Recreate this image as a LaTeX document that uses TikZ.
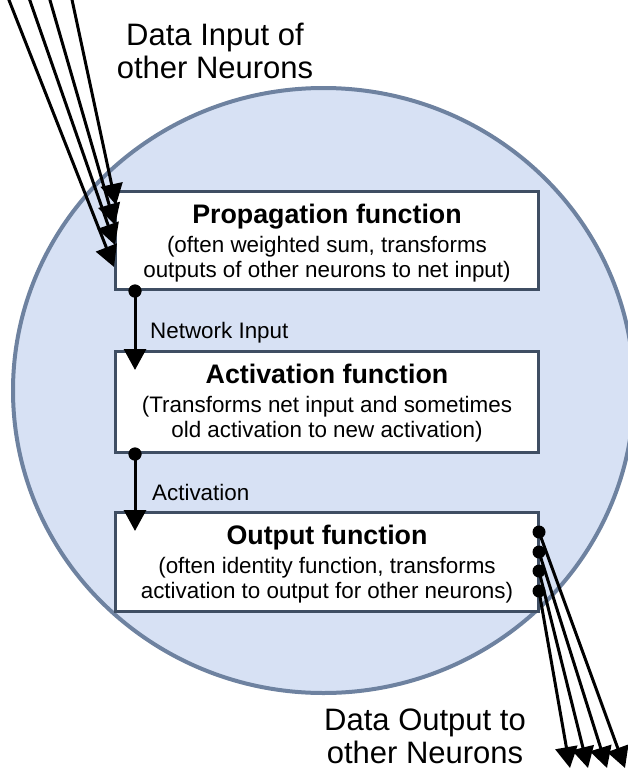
\documentclass[tikz,border=0pt]{standalone}
\usepackage{fontspec}
\setmainfont{Liberation Sans}
\usetikzlibrary{arrows.meta,calc}

\definecolor{cellfill}{HTML}{D7E1F4}
\definecolor{cellrim}{HTML}{6E82A0}
\definecolor{boxrim}{HTML}{3F4E63}

\tikzset{
  fbox/.style={draw=boxrim, line width=3pt, fill=white, minimum width=423pt,
               inner sep=0pt, anchor=north west},
  ftitle/.style={font=\bfseries\fontsize{26.8}{30}\selectfont, inner sep=0pt, anchor=base},
  fline/.style={font=\fontsize{22.4}{25}\selectfont, inner sep=0pt, anchor=base},
  flabel/.style={font=\fontsize{22.4}{25}\selectfont, inner sep=0pt, anchor=base west},
  biglabel/.style={font=\fontsize{31}{33}\selectfont, inner sep=0pt, anchor=base},
  flow/.style={line width=3pt, -{Triangle[length=21pt,width=22pt]}},
  dotc/.style={circle, fill=black, inner sep=0pt, minimum size=13pt},
}

\begin{document}
\begin{tikzpicture}[x=1pt, y=-1pt]
\useasboundingbox (0,0) rectangle (628,772);
\clip (0,0) rectangle (628,772);

% the neuron body
\draw[cellrim, fill=cellfill, line width=4pt] (323.5,390.5) ellipse [x radius=310.5, y radius=302.5];

% the three processing stages
\node[fbox, minimum height=98pt]  (prop) at (114,190) {};
\node[fbox, minimum height=101pt] (act)  at (114,350) {};
\node[fbox, minimum height=99pt]  (out)  at (114,511) {};

\node[ftitle] (propT)  at ($(prop.north)+(0,33)$) {Propagation function};
\node[fline]  (propL1) at ($(prop.north)+(0,62)$) {(often weighted sum, transforms};
\node[fline]  (propL2) at ($(prop.north)+(0,87)$) {outputs of other neurons to net input)};

\node[ftitle] (actT)  at ($(act.north)+(0,33)$) {Activation function};
\node[fline]  (actL1) at ($(act.north)+(0,62)$) {(Transforms net input and sometimes};
\node[fline]  (actL2) at ($(act.north)+(0,87)$) {old activation to new activation)};

\node[ftitle] (outT)  at ($(out.north)+(0,33)$) {Output function};
\node[fline]  (outL1) at ($(out.north)+(0,62)$) {(often identity function, transforms};
\node[fline]  (outL2) at ($(out.north)+(0,87)$) {activation to output for other neurons)};

% outer captions
\node[biglabel] (inA)  at (215,45)  {Data Input of};
\node[biglabel] (inB)  at (215,78)  {other Neurons};
\node[biglabel] (outA) at (425,730) {Data Output to};
\node[biglabel] (outB) at (425,763) {other Neurons};

% incoming connections
\coordinate (s1) at (7,-5);
\coordinate (s2) at (28,-5);
\coordinate (s3) at (48.5,-5);
\coordinate (s4) at (71,-5);
\draw[flow] (s1) -- ($(prop.north west)+(0,77)$);
\draw[flow] (s2) -- ($(prop.north west)+(1,55)$);
\draw[flow] (s3) -- ($(prop.north west)+(1,35)$);
\draw[flow] (s4) -- ($(prop.north west)+(2,15)$);

% internal hand-over between stages
\node[dotc] (d1) at ($(prop.south west)+(21,0)$) {};
\node[dotc] (d2) at ($(act.south west)+(21,0)$) {};
\draw[flow] (d1.center) -- ($(act.north west)+(21,20)$);
\draw[flow] (d2.center) -- ($(out.north west)+(21,20)$);
\node[dotc] at (d1) {};
\node[dotc] at (d2) {};
\node[flabel] (netin) at (150,338) {Network Input};
\node[flabel] (actv)  at (152,500) {Activation};

% outgoing connections
\coordinate (t1) at (625,768);
\coordinate (t2) at (607,768);
\coordinate (t3) at (588,768);
\coordinate (t4) at (570,768);
\draw[flow] ($(out.north east)+(-1,21)$) -- (t1);
\draw[flow] ($(out.north east)+(-1,41)$) -- (t2);
\draw[flow] ($(out.north east)+(-1,60)$) -- (t3);
\draw[flow] ($(out.north east)+(-1,80)$) -- (t4);
\node[dotc] (o1) at ($(out.north east)+(-1,21)$) {};
\node[dotc] (o2) at ($(out.north east)+(-1,41)$) {};
\node[dotc] (o3) at ($(out.north east)+(-1,60)$) {};
\node[dotc] (o4) at ($(out.north east)+(-1,80)$) {};
\end{tikzpicture}
\end{document}
